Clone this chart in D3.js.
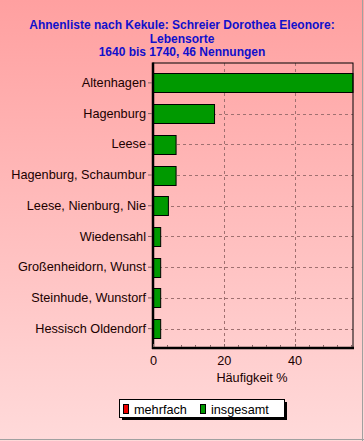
<!DOCTYPE html>
<html><head><meta charset="utf-8">
<script src="https://cdn.jsdelivr.net/npm/d3@7"></script>
<style>body{margin:0;padding:0;overflow:hidden}svg{display:block}</style>
</head><body>
<script>
const titleLines = ["Ahnenliste nach Kekule: Schreier Dorothea Eleonore:", "Lebensorte", "1640 bis 1740, 46 Nennungen"];
const categories = ["Altenhagen","Hagenburg","Leese","Hagenburg, Schaumbur","Leese, Nienburg, Nie","Wiedensahl","Großenheidorn, Wunst","Steinhude, Wunstorf","Hessisch Oldendorf"];
const insgesamt = [56.52, 17.39, 6.52, 6.52, 4.35, 2.17, 2.17, 2.17, 2.17];
const mehrfach = [0, 0, 0, 0, 0, 0, 0, 0, 0];
const majorTicks = [0, 20, 40];
const minorTicks = [4, 8, 12, 16, 24, 28, 32, 36, 44, 48, 52, 56];
const xLabel = "Häufigkeit %";
const legendItems = [{name:"mehrfach", color:"#ee0000"}, {name:"insgesamt", color:"#009900"}];

const FONT = "Liberation Sans, Arial, sans-serif";
const FS = "12.7px";
const W = 364, H = 441;
const svg = d3.select("body").append("svg").attr("width", W).attr("height", H);
const defs = svg.append("defs");
const grad = defs.append("linearGradient").attr("id","bg").attr("x1",0).attr("y1",0).attr("x2",0).attr("y2",1);
grad.append("stop").attr("offset","0%").attr("stop-color","#ffa0a0");
grad.append("stop").attr("offset","100%").attr("stop-color","#ffdada");
svg.append("rect").attr("width",W).attr("height",H).attr("fill","url(#bg)");
svg.append("line").attr("x1",W-1.5).attr("x2",W-1.5).attr("y1",0).attr("y2",H).attr("stroke","#a0a0a0").attr("stroke-width",1);
svg.append("line").attr("x1",0).attr("x2",W).attr("y1",H-1.5).attr("y2",H-1.5).attr("stroke","#a0a0a0").attr("stroke-width",1);

svg.append("g").selectAll("text").data(titleLines).join("text")
  .attr("x",182).attr("y",(d,i)=>29+i*13.5)
  .attr("text-anchor","middle")
  .attr("font-family",FONT).attr("font-weight","bold").attr("font-size","12px")
  .attr("fill","#1010cc").text(d=>d);

const pLeft = 153, pRight = 353, pTop = 63, pBottom = 348;
const x = d3.scaleLinear().domain([0, d3.max(insgesamt)]).range([pLeft, pRight]);
const y = d3.scaleBand().domain(categories).range([67.5, 344]).paddingInner(0.38).paddingOuter(0.19);

const grid = svg.append("g");
grid.selectAll("line.v").data(majorTicks.filter(d=>d>0)).join("line")
  .attr("x1",d=>Math.round(x(d))+0.5).attr("x2",d=>Math.round(x(d))+0.5)
  .attr("y1",pTop).attr("y2",pBottom)
  .attr("stroke","#a07070").attr("stroke-dasharray","3,3");
grid.selectAll("line.h").data(categories).join("line")
  .attr("x1",pLeft).attr("x2",pRight)
  .attr("y1",d=>Math.round(y(d)+y.bandwidth()/2)+0.5).attr("y2",d=>Math.round(y(d)+y.bandwidth()/2)+0.5)
  .attr("stroke","#a07070").attr("stroke-dasharray","3,3");

svg.append("g").selectAll("rect").data(categories).join("rect")
  .attr("x",x(0)).attr("y",d=>Math.round(y(d))+0.5)
  .attr("width",(d,i)=>x(insgesamt[i])-x(0)).attr("height",Math.round(y.bandwidth()))
  .attr("fill","#009900").attr("stroke","#000").attr("stroke-width",1);

svg.append("rect").attr("x",pLeft).attr("y",pTop).attr("width",pRight-pLeft).attr("height",pBottom-pTop)
  .attr("fill","none").attr("stroke","#000").attr("stroke-width",1);
svg.append("line").attr("x1",pLeft).attr("x2",pLeft).attr("y1",pTop-0.5).attr("y2",pBottom+1).attr("stroke","#000").attr("stroke-width",2.5);
svg.append("line").attr("x1",pLeft-1).attr("x2",pRight+1).attr("y1",pBottom).attr("y2",pBottom).attr("stroke","#000").attr("stroke-width",2.5);

const yAxis = d3.axisLeft(y).tickSize(4).tickPadding(2);
const gy = svg.append("g").attr("transform",`translate(${pLeft-1},0)`).call(yAxis);
gy.select(".domain").remove();
gy.selectAll(".tick line").attr("stroke","#806060");
gy.selectAll("text").attr("font-family",FONT).attr("font-size",FS).attr("fill","#200000");

const xAxis = d3.axisBottom(x).tickValues(majorTicks).tickSize(0).tickPadding(7).tickFormat(d3.format("d"));
const gx = svg.append("g").attr("transform",`translate(0,${pBottom+1})`).call(xAxis);
gx.select(".domain").remove();
gx.selectAll("text").attr("font-family",FONT).attr("font-size",FS).attr("fill","#200000");
svg.append("g").selectAll("line").data(majorTicks.concat(minorTicks)).join("line")
  .attr("x1",d=>Math.round(x(d))+0.5).attr("x2",d=>Math.round(x(d))+0.5)
  .attr("y1",pBottom-1).attr("y2",d=>majorTicks.includes(d)?pBottom-4:pBottom-3)
  .attr("stroke","#806060");

svg.append("text").attr("x",252).attr("y",382).attr("text-anchor","middle")
  .attr("font-family",FONT).attr("font-size",FS).attr("fill","#200000").text(xLabel);

const lg = svg.append("g");
lg.append("rect").attr("x",122).attr("y",402).attr("width",165).attr("height",18).attr("fill","#000");
lg.append("rect").attr("x",119.5).attr("y",399.5).attr("width",165).attr("height",18).attr("fill","#fff").attr("stroke","#000");
const li = lg.selectAll("g.item").data(legendItems).join("g").attr("transform",(d,i)=>`translate(${i===0?123:200},0)`);
li.append("rect").attr("x",0.5).attr("y",404.5).attr("width",5).attr("height",9).attr("fill",d=>d.color).attr("stroke","#000");
li.append("text").attr("x",11).attr("y",413.5).attr("font-family",FONT).attr("font-size",FS).attr("fill","#000").text(d=>d.name);
</script>
</body></html>
